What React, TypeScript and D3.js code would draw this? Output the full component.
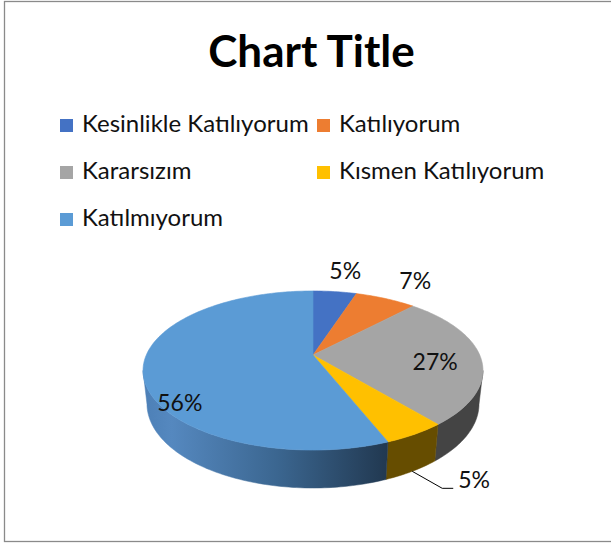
import React from "react";
import * as d3 from "d3";

const categories = ["Kesinlikle Katılıyorum", "Katılıyorum", "Kararsızım", "Kısmen Katılıyorum", "Katılmıyorum"];
const values = [5, 7, 27, 5, 56];
const topColors = ["#4472C4", "#ED7D31", "#A5A5A5", "#FFC000", "#5B9BD5"];
const sideColors = ["#2b4677", "#8f4a1c", "#444444", "#664d00", "url(#blueSide)"];
const title = "Chart Title";

// label layout: radius factor, wall height fraction, nudge
const labelLayout = [
  { k: 1.43, h: 0, dx: 3, dy: 0, anchor: "middle" },
  { k: 1.4, h: 0, dx: 6, dy: 0, anchor: "middle" },
  { k: 0.73, h: 0, dx: 0, dy: 4, anchor: "middle" },
  { k: 1.0, h: 1, dx: 46, dy: 17, anchor: "start" },
  { k: 0.79, h: 0, dx: 0, dy: 35, anchor: "middle" },
];

const W = 611, H = 546;
const cx = 313, cy0 = 355;
const A = 166.7; // f*R/d
const RoverD = 0.2196;
const sE = 0.459, cE = 0.888;
const hr = 0.227; // depth relative to radius

function project(a: number, k: number, yw: number): [number, number] {
  const X = k * Math.sin(a), Z = k * Math.cos(a), Y = yw;
  const yp = Y * cE + Z * sE;
  const zp = -Y * sE + Z * cE;
  const den = 1 + RoverD * zp;
  return [cx + (A * X) / den, cy0 - (A * yp) / den];
}

function arcPts(a0: number, a1: number, yw: number) {
  const n = Math.max(2, Math.ceil(Math.abs(a1 - a0) / 0.02));
  const pts: [number, number][] = [];
  for (let i = 0; i <= n; i++) pts.push(project(a0 + ((a1 - a0) * i) / n, 1, yw));
  return pts;
}

export default function App() {
  const pie = d3.pie<number>().sort(null).startAngle(0).endAngle(2 * Math.PI);
  const arcs = pie(values);
  const total = d3.sum(values);
  const line = d3.line();
  const visL = Math.acos(-RoverD * cE);
  const visR = 2 * Math.PI - visL;

  const walls = arcs.map((d, i) => {
    const a0 = Math.max(d.startAngle, visL);
    const a1 = Math.min(d.endAngle, visR);
    if (a1 <= a0) return null;
    const top = arcPts(a0, a1, 0);
    const bot = arcPts(a1, a0, -hr);
    return (
      <path key={"w" + i} d={line([...top, ...bot])! + "Z"} fill={sideColors[i]} stroke={sideColors[i]} strokeWidth={0.5} />
    );
  });

  const tops = arcs.map((d, i) => {
    const pts = [project(0, 0, 0), ...arcPts(d.startAngle, d.endAngle, 0)];
    return <path key={"t" + i} d={line(pts)! + "Z"} fill={topColors[i]} stroke={topColors[i]} strokeWidth={0.6} />;
  });

  const labels = arcs.map((d, i) => {
    const L = labelLayout[i];
    const mid = (d.startAngle + d.endAngle) / 2;
    const [px, py] = project(mid, L.k, -hr * L.h);
    const txt = Math.round((d.data / total) * 100) + "%";
    if (L.anchor === "start") {
      const tx = px + L.dx, ty = py + L.dy;
      return (
        <g key={"l" + i}>
          <polyline points={`${px},${py} ${tx - 16},${ty} ${tx - 5},${ty}`} fill="none" stroke="#000" strokeWidth={1} />
          <text x={tx} y={ty} fontSize={23} fill="#111" fontFamily="Lato">{txt}</text>
        </g>
      );
    }
    return (
      <text key={"l" + i} x={px + L.dx} y={py + L.dy} fontSize={23} fill="#111" fontFamily="Lato" textAnchor="middle" dominantBaseline="central">{txt}</text>
    );
  });

  const legendPos = [
    [60, 119], [317, 119], [60, 166], [317, 166], [60, 213],
  ];

  return (
    <svg width={W} height={H} style={{ position: "absolute", left: 0, top: 0 }} fontFamily="Lato">
      <defs>
        <linearGradient id="blueSide" gradientUnits="userSpaceOnUse" x1={142} y1={0} x2={388} y2={0}>
          <stop offset="0" stopColor="#4c7fb6" />
          <stop offset="0.12" stopColor="#5588bf" />
          <stop offset="0.55" stopColor="#3b6690" />
          <stop offset="1" stopColor="#213850" />
        </linearGradient>
      </defs>
      <rect x={0} y={0} width={W} height={H} fill="#fff" />
      <rect x={4.5} y={1.5} width={W + 10} height={540} fill="#fff" stroke="#8a8a8a" strokeWidth={1.3} />
      <text x={311.5} y={67} textAnchor="middle" fontSize={44} fontWeight="bold" fill="#000">{title}</text>
      {categories.map((c, i) => (
        <g key={"lg" + i}>
          <rect x={legendPos[i][0]} y={legendPos[i][1]} width={13} height={13} fill={topColors[i]} />
          <text x={legendPos[i][0] + 22} y={legendPos[i][1] + 13} fontSize={24} fill="#111">{c}</text>
        </g>
      ))}
      {walls}
      {tops}
      {labels}
    </svg>
  );
}
